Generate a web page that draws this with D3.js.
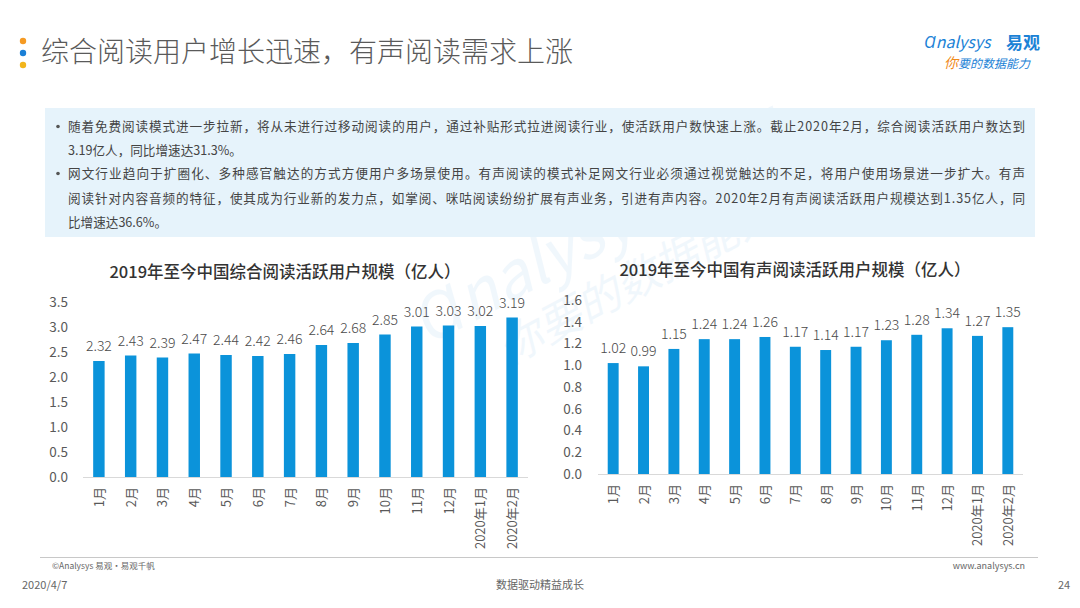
<!DOCTYPE html>
<html>
<head>
<meta charset="utf-8">
<script src="https://cdn.jsdelivr.net/npm/d3@7"></script>
<style>
  body { margin: 0; background: #fff; }
  svg { display: block; font-family: "Noto Sans CJK SC", "Noto Sans", sans-serif; }
</style>
</head>
<body>
<svg id="page" width="1080" height="608"></svg>
<script>
var months = ['1月', '2月', '3月', '4月', '5月', '6月', '7月', '8月', '9月', '10月', '11月', '12月', '2020年1月', '2020年2月'];
var readingUsers = [2.32, 2.43, 2.39, 2.47, 2.44, 2.42, 2.46, 2.64, 2.68, 2.85, 3.01, 3.03, 3.02, 3.19];
var audioUsers = [1.02, 0.99, 1.15, 1.24, 1.24, 1.26, 1.17, 1.14, 1.17, 1.23, 1.28, 1.34, 1.27, 1.35];
var readingTicks = [0, 0.5, 1.0, 1.5, 2.0, 2.5, 3.0, 3.5];
var audioTicks = [0, 0.2, 0.4, 0.6, 0.8, 1.0, 1.2, 1.4, 1.6];

var barColor = '#0b93da';
var svg = d3.select('#page');

// page header
svg.append('circle').attr('cx', 23).attr('cy', 41).attr('r', 3.2).attr('fill', '#f59a23');
svg.append('circle').attr('cx', 23).attr('cy', 53).attr('r', 3.2).attr('fill', '#1a7fd6');
svg.append('circle').attr('cx', 23).attr('cy', 65).attr('r', 3.2).attr('fill', '#f2b51c');
svg.append('text')
  .attr('x', 41).attr('y', 62)
  .attr('font-size', 28).attr('font-weight', 300).attr('fill', '#5a5a5a')
  .text('综合阅读用户增长迅速，有声阅读需求上涨');

// logo
var logo = svg.append('g').attr('transform', 'translate(924, 48)');
logo.append('text').attr('x', 0).attr('y', 0)
  .attr('font-size', 16).attr('font-style', 'italic').attr('fill', '#1b82d6')
  .text('Ɑnalysys');
logo.append('text').attr('x', 82).attr('y', 1)
  .attr('font-size', 17).attr('font-weight', 'bold').attr('fill', '#1b82d6')
  .text('易观');
var slogan = logo.append('text').attr('x', 20).attr('y', 20)
  .attr('font-size', 12).attr('font-style', 'italic');
slogan.append('tspan').attr('fill', '#f08a1c').attr('font-size', 14).text('你');
slogan.append('tspan').attr('fill', '#1b82d6').text('要的数据能力');

// watermark
var wm = svg.append('g').attr('transform', 'translate(430, 345) rotate(-28)').attr('opacity', 0.06);
wm.append('text').attr('x', 0).attr('y', 0)
  .attr('font-size', 64).attr('font-style', 'italic').attr('fill', '#1b82d6')
  .text('Ɑnalysys 易观');
wm.append('text').attr('x', 60).attr('y', 55)
  .attr('font-size', 44).attr('font-style', 'italic').attr('fill', '#1b82d6')
  .text('你要的数据能力');

// summary box
svg.append('rect')
  .attr('x', 45).attr('y', 108).attr('width', 990).attr('height', 129)
  .attr('fill', '#e6f3fb');
var lines = [
  { bullet: true, y: 131, text: '随着免费阅读模式进一步拉新，将从未进行过移动阅读的用户，通过补贴形式拉进阅读行业，使活跃用户数快速上涨。截止2020年2月，综合阅读活跃用户数达到' },
  { bullet: false, y: 155, text: '3.19亿人，同比增速达31.3%。' },
  { bullet: true, y: 178, text: '网文行业趋向于扩圈化、多种感官触达的方式方便用户多场景使用。有声阅读的模式补足网文行业必须通过视觉触达的不足，将用户使用场景进一步扩大。有声' },
  { bullet: false, y: 203, text: '阅读针对内容音频的特征，使其成为行业新的发力点，如掌阅、咪咕阅读纷纷扩展有声业务，引进有声内容。2020年2月有声阅读活跃用户规模达到1.35亿人，同' },
  { bullet: false, y: 227, text: '比增速达36.6%。' }
];
lines.forEach(function (l) {
  if (l.bullet) {
    svg.append('circle').attr('cx', 58).attr('cy', l.y - 4.5).attr('r', 1.8).attr('fill', '#555');
  }
  svg.append('text')
    .attr('x', 68).attr('y', l.y)
    .attr('font-size', 12.6).attr('fill', '#444')
    .attr('textLength', l.text.length > 40 ? 957 : null)
    .text(l.text);
});

// bar chart
var drawChart = function (opts) {
  var x = d3.scaleBand()
    .domain(months)
    .range([opts.left, opts.right])
    .paddingInner(0.64)
    .paddingOuter(0.32);

  var y = d3.scaleLinear()
    .domain([0, opts.max])
    .range([opts.bottom, opts.top]);

  svg.append('text')
    .attr('x', opts.titleX).attr('y', opts.titleY)
    .attr('text-anchor', 'middle')
    .attr('font-size', 16.5).attr('font-weight', 500).attr('fill', '#333')
    .text(opts.title);

  var yAxis = svg.append('g')
    .attr('transform', 'translate(' + opts.axisX + ',0)')
    .call(d3.axisLeft(y).tickValues(opts.ticks).tickFormat(d3.format(opts.fmt)).tickSize(0).tickPadding(0));
  yAxis.select('.domain').remove();
  yAxis.selectAll('text')
    .attr('font-size', 13.5).attr('fill', '#595959')
    .attr('font-family', '"Noto Sans CJK SC", sans-serif');

  svg.append('line')
    .attr('x1', opts.left).attr('x2', opts.right)
    .attr('y1', opts.bottom + 0.5).attr('y2', opts.bottom + 0.5)
    .attr('stroke', '#d9d9d9').attr('stroke-width', 1);

  svg.selectAll(null)
    .data(opts.values)
    .enter().append('rect')
    .attr('x', function (d, i) { return x(months[i]); })
    .attr('width', x.bandwidth())
    .attr('y', function (d) { return y(d); })
    .attr('height', function (d) { return opts.bottom - y(d); })
    .attr('fill', barColor);

  svg.selectAll(null)
    .data(opts.values)
    .enter().append('text')
    .attr('x', function (d, i) { return x(months[i]) + x.bandwidth() / 2; })
    .attr('y', function (d) { return y(d) - 10; })
    .attr('text-anchor', 'middle')
    .attr('font-size', 14).attr('font-weight', 300).attr('fill', '#4a4a4a')
    .text(function (d) { return d3.format('.2f')(d); });

  var xAxis = svg.append('g')
    .attr('transform', 'translate(0,' + opts.bottom + ')')
    .call(d3.axisBottom(x).tickSize(0).tickPadding(0));
  xAxis.select('.domain').remove();
  xAxis.selectAll('text')
    .attr('font-size', 13).attr('fill', '#595959')
    .attr('font-family', '"Noto Sans CJK SC", sans-serif')
    .attr('text-anchor', 'end')
    .attr('dy', null)
    .attr('y', 0)
    .attr('transform', 'translate(5,10) rotate(-90)');
};

drawChart({
  title: '2019年至今中国综合阅读活跃用户规模（亿人）',
  titleX: 285, titleY: 278,
  values: readingUsers, ticks: readingTicks, max: 3.5, fmt: '.1f',
  left: 83, right: 528, top: 302, bottom: 477, axisX: 68
});

drawChart({
  title: '2019年至今中国有声阅读活跃用户规模（亿人）',
  titleX: 795, titleY: 276,
  values: audioUsers, ticks: audioTicks, max: 1.6, fmt: '.1f',
  left: 598, right: 1023, top: 300, bottom: 474, axisX: 582
});

// footer
svg.append('line')
  .attr('x1', 40).attr('x2', 1038).attr('y1', 557.5).attr('y2', 557.5)
  .attr('stroke', '#c8c8c8');
svg.append('text').attr('x', 52).attr('y', 569)
  .attr('font-size', 8.5).attr('fill', '#666').text('©Analysys 易观·易观千帆');
svg.append('text').attr('x', 1025).attr('y', 569).attr('text-anchor', 'end')
  .attr('font-size', 9).attr('fill', '#666').text('www.analysys.cn');
svg.append('text').attr('x', 22).attr('y', 589)
  .attr('font-size', 11).attr('fill', '#666').text('2020/4/7');
svg.append('text').attr('x', 540).attr('y', 589).attr('text-anchor', 'middle')
  .attr('font-size', 11).attr('fill', '#666').text('数据驱动精益成长');
svg.append('text').attr('x', 1058).attr('y', 589)
  .attr('font-size', 11).attr('fill', '#666').text('24');
</script>
</body>
</html>
